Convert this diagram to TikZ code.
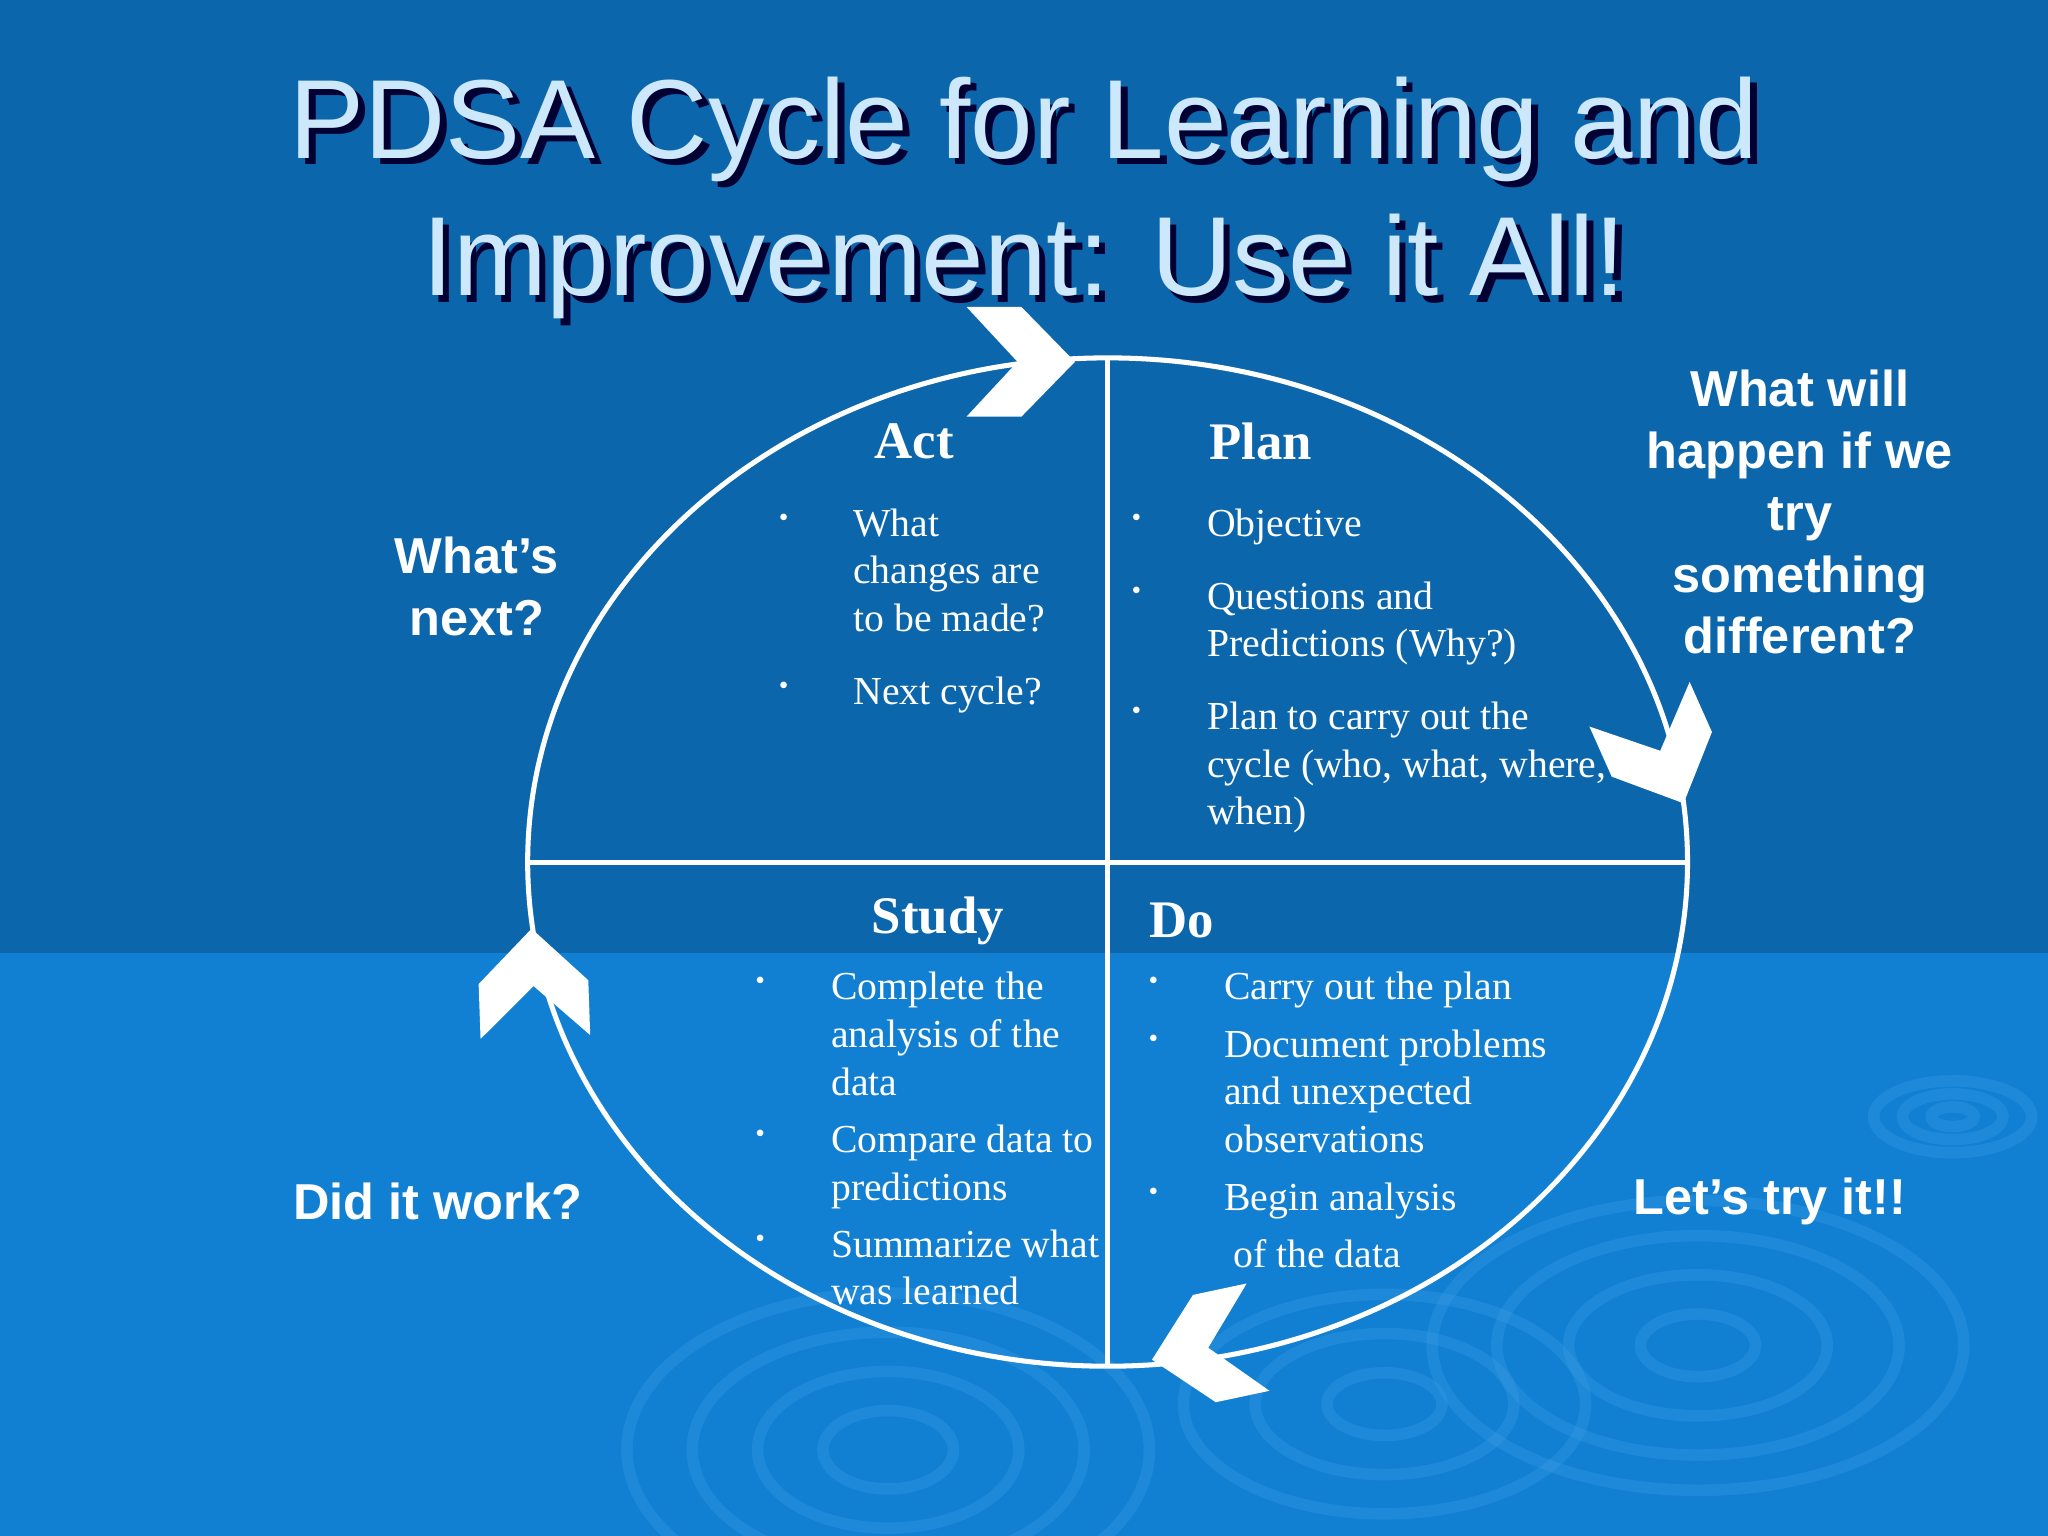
\documentclass[tikz,border=0pt]{standalone}
\usepackage{fontspec}
\setmainfont{Liberation Serif}
\newfontfamily\sidefont{Liberation Sans}
\definecolor{bgtop}{RGB}{12,102,172}
\definecolor{bgbot}{RGB}{18,128,210}
\definecolor{ripple}{RGB}{60,160,230}
\definecolor{titlec}{RGB}{205,232,250}
\tikzset{
  body/.style={text=white,font=\fontsize{17.3}{20.8}\selectfont,anchor=north west,align=left,inner sep=0pt},
  head/.style={text=white,font=\fontsize{23}{26}\selectfont\bfseries,inner sep=0pt},
  side/.style={text=white,font=\sidefont\fontsize{22}{27}\selectfont\bfseries,align=center,inner sep=0pt},
  bul/.style={text=white,font=\fontsize{12}{12}\selectfont,inner sep=0pt},
  titl/.style={font=\sidefont\fontsize{49}{52}\selectfont,inner sep=0pt},
  rip/.style={draw=ripple,line width=5pt,opacity=0.3}
}
\newcommand{\chevron}[3]{\begin{scope}[shift={(#1,#2)},rotate=#3]
\fill[white] (0,0) -- (-41,42) -- (-83,42) -- (-44,0) -- (-83,-42) -- (-41,-42) -- cycle;
\end{scope}}
\begin{document}
\begin{tikzpicture}[x=0.02cm,y=-0.02cm]
\useasboundingbox (0,0) rectangle (1568,1176);
\fill[bgtop] (0,0) rectangle (1568,730);
\fill[bgbot] (0,730) rectangle (1568,1176);
% ripples
\foreach \r in {40,90,140,185} {\draw[rip] (1300,1030) ellipse ({\r*1.1} and {\r*0.6});}
\foreach \r in {40,90,140} {\draw[rip] (1060,1075) ellipse ({\r*1.1} and {\r*0.6});}
\foreach \r in {50,100,150,200} {\draw[rip] (680,1110) ellipse ({\r*1.0} and {\r*0.6});}
\foreach \r in {15,35,55} {\draw[rip] (1495,855) ellipse ({\r*1.1} and {\r*0.5});}
% title
\node[titl,text=black!80!blue] at (789,104) {PDSA Cycle for Learning and};
\node[titl,text=titlec] (t1) at (784,99) {PDSA Cycle for Learning and};
\node[titl,text=black!80!blue] at (789,209) {Improvement: Use it All!};
\node[titl,text=titlec] (t2) at (784,204) {Improvement: Use it All!};
% cycle
\draw[white,line width=2.2pt] (848,660) ellipse (444 and 386);
\draw[white,line width=2.2pt] (848,274) -- (848,1046);
\draw[white,line width=2.2pt] (404,660) -- (1292,660);
\chevron{823}{277}{0}
\chevron{1289}{615}{-66}
\chevron{882}{1041}{192}
\chevron{407}{711}{92}
% headings
\node[head] (act) at (700,338) {Act};
\node[head] (plan) at (965,338) {Plan};
\node[head] (study) at (718,705) {Study};
\node[head] (do) at (905,705) {Do};
% Act
\node[bul] at (600,398) {•};
\node[body] at (653,389) {What\\changes are\\to be made?};
\node[bul] at (600,527) {•};
\node[body] at (653,518) {Next cycle?};
% Plan
\node[bul] at (870,398) {•};
\node[body] at (924,389) {Objective};
\node[bul] at (870,454) {•};
\node[body] at (924,445) {Questions and\\Predictions (Why?)};
\node[bul] at (870,546) {•};
\node[body] at (924,537) {Plan to carry out the\\cycle (who, what, where,\\when)};
% Study
\node[bul] at (582,753) {•};
\node[body] at (636,744) {Complete the\\analysis of the\\data};
\node[bul] at (582,870) {•};
\node[body] at (636,861) {Compare data to\\predictions};
\node[bul] at (582,950) {•};
\node[body] at (636,941) {Summarize what\\was learned};
% Do
\node[bul] at (883,753) {•};
\node[body] at (937,744) {Carry out the plan};
\node[bul] at (883,797) {•};
\node[body] at (937,788) {Document problems\\and unexpected\\observations};
\node[bul] at (883,914) {•};
\node[body] at (937,905) {Begin analysis};
\node[body] at (944,949) {of the data};
% side texts
\node[side] (next) at (365,449) {What’s\\next?};
\node[side] (happen) at (1378,392) {What will\\happen if we\\try\\something\\different?};
\node[side] (work) at (335,920) {Did it work?};
\node[side] (try) at (1355,920) {Let’s try it!!};
\end{tikzpicture}
\end{document}
